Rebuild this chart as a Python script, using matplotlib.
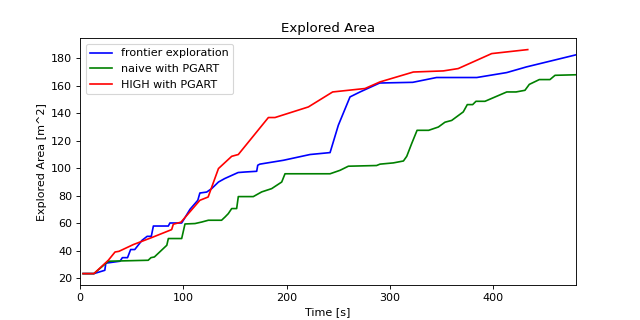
import numpy as np
import matplotlib.pyplot as plt


# Explored area over time for the three strategies

frontier_t = [3, 13.5, 24, 25, 38.7, 41, 46, 49, 53, 60, 65, 69, 71, 85.5, 87,
              98.4, 106.5, 114, 116, 122.6, 127.4, 134, 140, 153, 160, 171,
              172, 174, 196.8, 222.6, 242, 250, 261.3, 271, 290, 322, 345,
              384, 413, 432, 480]
frontier_area = [23.4, 23.4, 25.8, 31, 32.4, 35, 35, 40.9, 40.9, 47.6, 50.5,
                 50.5, 58, 58, 60.2, 60.2, 70.2, 76.7, 82, 82.7, 85.2, 90,
                 92.5, 96.9, 97.3, 97.8, 102.2, 103, 105.8, 110, 111.4, 131.3,
                 151.9, 155.5, 162, 162.5, 166, 166, 169.6, 173.7, 182.5]

naive_t = [3, 13.5, 27.4, 66, 68.7, 72, 84, 85.5, 98.4, 101.6, 111.3, 117.8,
           124.2, 137, 140.4, 143.5, 146.8, 151.6, 153.2, 167.7, 175.8, 185.5,
           195.2, 198.4, 242, 251.6, 259.7, 287, 290.3, 303.2, 313, 316.2,
           321, 326.2, 337.4, 346.8, 353.2, 359.7, 370.9, 374.8, 380, 383.2,
           391.9, 413, 422, 430.6, 434.8, 444.5, 454.8, 459.7, 480]
naive_area = [23.4, 23.4, 32.4, 33.1, 35, 35.5, 44, 48.9, 48.9, 59.5, 59.8,
              60.9, 62.2, 62.2, 64.6, 67, 70.7, 70.7, 79.4, 79.4, 82.8, 85.2,
              90, 96, 96, 98.5, 101.5, 102, 103, 103.9, 105.3, 108.7, 118,
              127.6, 127.6, 130, 133.5, 134.8, 141, 146.3, 146.3, 148.7, 148.7,
              155.5, 155.5, 156.7, 161, 164.5, 164.5, 167.6, 168]

high_t = [3, 13.5, 27.4, 33.9, 37.7, 51.6, 69.4, 88.7, 90.3, 97.7, 116, 124,
          134, 146.8, 153.2, 182.3, 188.7, 221, 244.5, 275.8, 290.3, 322.6,
          351.6, 366, 398.4, 433.3]
high_area = [23.4, 23.4, 33.1, 39.1, 39.6, 44.5, 49.6, 55.4, 59.3, 60.8, 76.7,
             79.1, 99.8, 108.7, 110, 136.9, 136.9, 144.6, 155.5, 158, 162.8,
             170, 170.8, 172.5, 183.4, 186.3]

y_ticks = [20, 40, 60, 80, 100, 120, 140, 160, 180]


plt.figure(figsize=(8, 4), dpi=80)

plt.plot(frontier_t, frontier_area, "b", label="frontier exploration")
plt.plot(naive_t, naive_area, "g", label="naive with PGART")
plt.plot(high_t, high_area, "r", label="HIGH with PGART")

plt.xlabel("Time [s]")
plt.ylabel("Explored Area [m^2]")
plt.title("Explored Area")

plt.xlim(0, 480)
plt.yticks(y_ticks)

plt.legend(loc="upper left")

plt.savefig("out.png", dpi=80)
